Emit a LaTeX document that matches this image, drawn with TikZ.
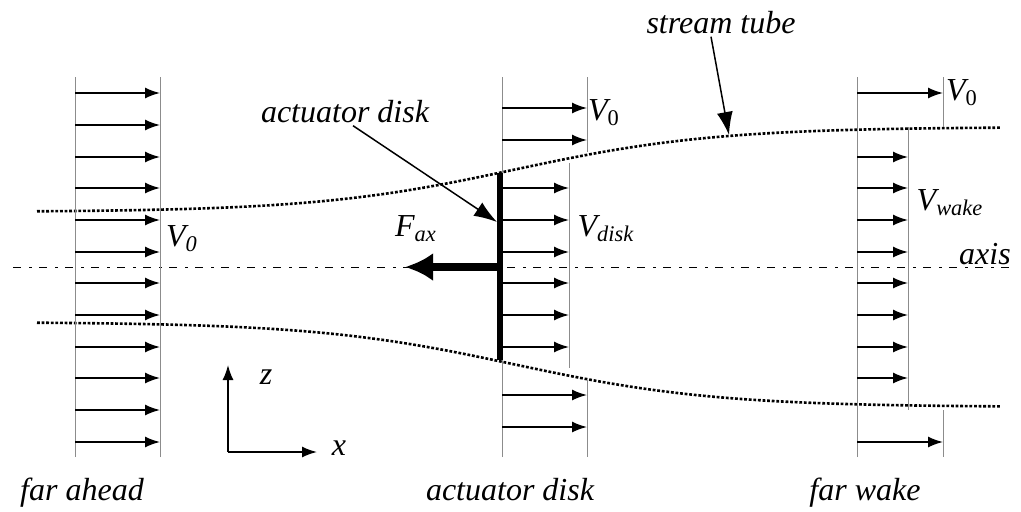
\documentclass[tikz,border=0pt]{standalone}
\usepackage{fontspec}
\setmainfont{Liberation Serif}
\usepackage{tikz}
\usetikzlibrary{arrows.meta}

\begin{document}
\begin{tikzpicture}[x=0.5pt, y=0.5pt,
  font=\fontsize{16}{18}\selectfont\itshape,
  prof/.style={black!45, line width=0.5pt},
  vel/.style={-{Latex[length=7.5pt,width=5.5pt]}, line width=0.8pt},
  lead/.style={-{Latex[length=11.5pt,width=8pt]}, line width=0.75pt},
  tube/.style={line width=1.3pt, dash pattern=on 1.4pt off 0.9pt},
  lbl/.style={inner sep=1pt}]
\useasboundingbox (0,0) rectangle (1021,511);
% axis
\draw[line width=0.5pt, dash pattern=on 4pt off 4pt on 1.5pt off 3.5pt] (13,244) -- (1010,244);
\node[lbl] (axislbl) at (985,257) {axis};
% stream tube
\draw[tube] plot[domain=37:1000, samples=90] (\x, {341.5+42.5*tanh((\x-515)/200)});
\draw[tube] plot[domain=37:1000, samples=90] (\x, {146.5-42.5*tanh((\x-515)/200)});
% far ahead
\draw[prof] (75,54) -- (75,434);
\draw[prof] (160,54) -- (160,434);
\draw[vel] (75,418) -- (160,418);
\draw[vel] (75,386) -- (160,386);
\draw[vel] (75,354) -- (160,354);
\draw[vel] (75,323) -- (160,323);
\draw[vel] (75,291) -- (160,291);
\draw[vel] (75,259) -- (160,259);
\draw[vel] (75,228) -- (160,228);
\draw[vel] (75,196) -- (160,196);
\draw[vel] (75,164) -- (160,164);
\draw[vel] (75,133) -- (160,133);
\draw[vel] (75,101) -- (160,101);
\draw[vel] (75,69) -- (160,69);
\node[lbl] (vahead) at (182,272) {V\textsubscript{0}};
% actuator disk
\draw[prof] (502,54) -- (502,434);
\draw[prof] (587,434) -- (587,359);
\draw[prof] (587,131) -- (587,54);
\draw[prof] (569,348) -- (569,143);
\draw[vel] (502,403) -- (587,403);
\draw[vel] (502,371) -- (587,371);
\draw[vel] (502,323) -- (569,323);
\draw[vel] (502,291) -- (569,291);
\draw[vel] (502,259) -- (569,259);
\draw[vel] (502,228) -- (569,228);
\draw[vel] (502,196) -- (569,196);
\draw[vel] (502,164) -- (569,164);
\draw[vel] (502,116) -- (587,116);
\draw[vel] (502,84) -- (587,84);
\draw[line width=3.3pt] (500,338) -- (500,151);
\coordinate (fbase) at (500,244);
\coordinate (ftip) at (405,244);
\draw[line width=4pt, -{Latex[length=14pt,width=14pt]}] (fbase) -- (ftip);
\node[lbl] (fax) at (416,282) {F\textsubscript{ax}};
\node[lbl] (vdisk0) at (604,398) {V\textsubscript{\upshape 0}};
\node[lbl] (vdisk) at (606,282) {V\textsubscript{disk}};
% far wake
\draw[prof] (857,54) -- (857,434);
\draw[prof] (943,434) -- (943,384);
\draw[prof] (943,101) -- (943,54);
\draw[prof] (908,384) -- (908,101);
\draw[vel] (857,418) -- (943,418);
\draw[vel] (857,354) -- (908,354);
\draw[vel] (857,323) -- (908,323);
\draw[vel] (857,291) -- (908,291);
\draw[vel] (857,259) -- (908,259);
\draw[vel] (857,228) -- (908,228);
\draw[vel] (857,196) -- (908,196);
\draw[vel] (857,164) -- (908,164);
\draw[vel] (857,133) -- (908,133);
\draw[vel] (857,69) -- (943,69);
\node[lbl] (vwake0) at (962,418) {V\textsubscript{\upshape 0}};
\node[lbl] (vwake) at (950,308) {V\textsubscript{wake}};
% leaders
\node[lbl] (adlbl) at (345,399) {actuator disk};
\coordinate (adtip) at (497,289);
\draw[lead] ([xshift=4pt]adlbl.south) -- (adtip);
\node[lbl] (stlbl) at (721,488) {stream tube};
\coordinate (sttip) at (729,376);
\draw[lead] ([xshift=-5pt]stlbl.south) -- (sttip);
% coordinate system
\coordinate (orig) at (228,59);
\coordinate (zend) at (228,146);
\coordinate (xend) at (317,59);
\draw[vel] (orig) -- (zend);
\draw[vel] (orig) -- (xend);
\node[lbl] (zlbl) at (266,134) {z};
\node[lbl] (xlbl) at (339,63) {x};
% station names
\node[lbl, anchor=base] (farahead) at (82,11) {far ahead};
\node[lbl, anchor=base] (diskname) at (510,11) {actuator disk};
\node[lbl, anchor=base] (farwake) at (865,11) {far wake};
\end{tikzpicture}
\end{document}
